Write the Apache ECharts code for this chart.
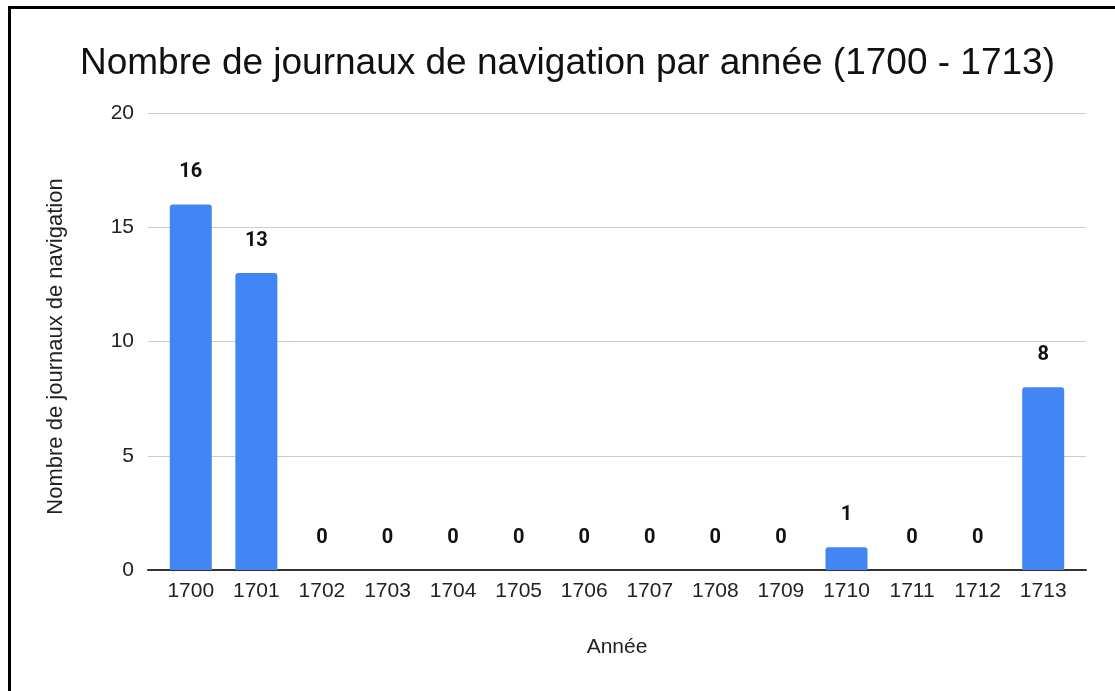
<!DOCTYPE html>
<html>
<head>
<meta charset="utf-8">
<script src="https://cdn.jsdelivr.net/npm/echarts@6/dist/echarts.min.js"></script>
<style>
  html, body { margin: 0; padding: 0; background: #fff; }
  #chart { position: absolute; left: 0; top: 0; width: 1115px; height: 691px; }
  #frame {
    position: absolute; left: 8px; top: 6px; width: 1120px; height: 700px;
    border-left: 3px solid #000; border-top: 3px solid #000;
    pointer-events: none;
  }
</style>
</head>
<body>
<div id="chart"></div>
<div id="frame"></div>
<script>
// données
const years = ['1700', '1701', '1702', '1703', '1704', '1705', '1706', '1707', '1708', '1709', '1710', '1711', '1712', '1713'];
const counts = [16, 13, 0, 0, 0, 0, 0, 0, 0, 0, 1, 0, 0, 8];
const yTicks = [0, 5, 10, 15, 20];

const chart = echarts.init(document.getElementById('chart'));

const arial = '"Liberation Sans", Arial, sans-serif';
const roboto = 'Roboto, Arial, sans-serif';

const option = {
  animation: false,
  title: {
    text: 'Nombre de journaux de navigation par année (1700 - 1713)',
    left: 75,
    top: 40,
    textStyle: {
      fontFamily: arial,
      fontSize: 37,
      fontWeight: 'normal',
      color: '#111'
    }
  },
  grid: [
    // grille des lignes de fond (plus large)
    { left: 148, right: 29, top: 113, bottom: 121 },
    // grille des barres
    { left: 158, right: 39, top: 113, bottom: 121 }
  ],
  xAxis: [
    {
      gridIndex: 0,
      type: 'category',
      data: years,
      axisLine: { show: true, lineStyle: { color: '#333', width: 2 } },
      axisTick: { show: false },
      axisLabel: { show: false },
      name: 'Année',
      nameLocation: 'middle',
      nameGap: 67,
      nameTextStyle: { fontFamily: arial, fontSize: 21, color: '#222' }
    },
    {
      gridIndex: 1,
      type: 'category',
      data: years,
      axisLine: { show: false },
      axisTick: { show: false },
      axisLabel: {
        margin: 11,
        fontFamily: arial,
        fontSize: 21,
        color: '#222'
      }
    }
  ],
  yAxis: [
    {
      gridIndex: 0,
      type: 'value',
      min: yTicks[0],
      max: yTicks[yTicks.length - 1],
      interval: 5,
      axisLine: { show: false },
      axisTick: { show: false },
      splitLine: { lineStyle: { color: '#ccc', width: 1 } },
      axisLabel: {
        margin: 14,
        fontFamily: arial,
        fontSize: 21,
        color: '#222'
      },
      name: 'Nombre de journaux de navigation',
      nameLocation: 'middle',
      nameGap: 81,
      nameRotate: 90,
      nameTextStyle: { fontFamily: arial, fontSize: 22, color: '#222', padding: [0, 10, 0, 0] }
    },
    {
      gridIndex: 1,
      type: 'value',
      min: yTicks[0],
      max: yTicks[yTicks.length - 1],
      interval: 5,
      axisLine: { show: false },
      axisTick: { show: false },
      axisLabel: { show: false },
      splitLine: { show: false }
    }
  ],
  series: [
    {
      type: 'bar',
      xAxisIndex: 1,
      yAxisIndex: 1,
      data: counts,
      barWidth: 42,
      itemStyle: { color: '#4285f4', borderRadius: [3, 3, 0, 0] },
      label: {
        show: true,
        position: 'top',
        distance: 22,
        fontFamily: roboto,
        fontSize: 20,
        fontWeight: 'bold',
        color: '#111'
      }
    }
  ]
};

chart.setOption(option);
</script>
</body>
</html>
